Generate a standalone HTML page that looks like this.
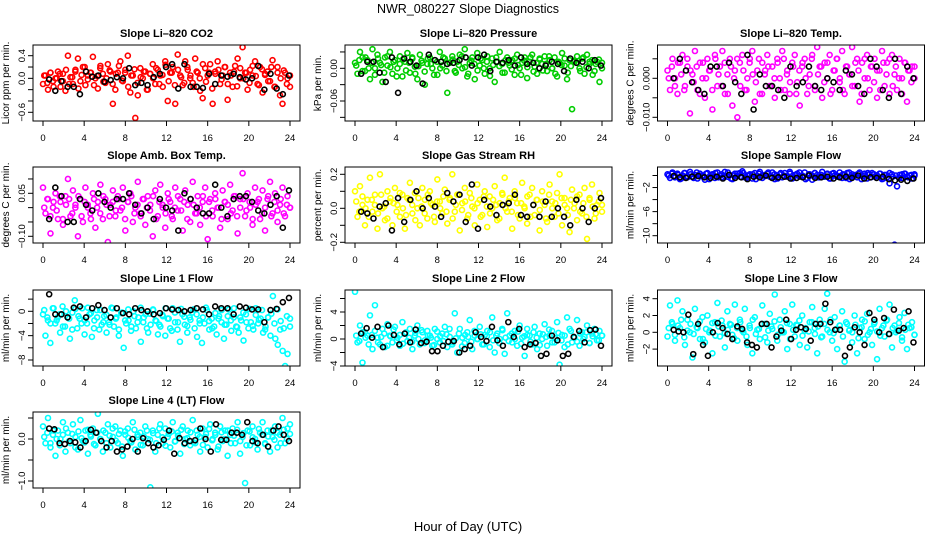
<!DOCTYPE html>
<html><head><meta charset="utf-8"><style>
html,body{margin:0;padding:0;background:#fff;}
svg{display:block;font-family:"Liberation Sans",Arial,sans-serif;}
</style></head><body>
<svg id="chart" width="936" height="540" viewBox="0 0 936 540" xmlns="http://www.w3.org/2000/svg">
<text x="468" y="13" font-size="12.5" text-anchor="middle">NWR_080227  Slope Diagnostics</text>
<text x="468" y="531" font-size="13" text-anchor="middle">Hour of Day (UTC)</text>
</svg>
<script>
const xTicks = [0,4,8,12,16,20,24];
const co2Vals = [-0.1,0.05,-0.2,0.1,-0.05,0.0,0.12,-0.15,0.08,-0.22,0.4,0.02,-0.1,0.15,0.35,-0.05,0.2,-0.12,0.05,0.1,0.38,0.0,-0.18,0.22,0.08,-0.08,0.25,0.12,-0.45,-0.2,0.1,0.3,-0.05,0.15,0.4,-0.25,0.05,-0.7,-0.3,0.18,0.0,0.12,-0.2,0.08,0.25,-0.1,0.15,0.05,-0.15,0.3,-0.4,0.1,0.2,-0.45,0.42,0.05,-0.12,0.3,0.15,0.0,-0.08,0.35,0.1,-0.22,-0.35,0.18,0.05,0.25,-0.45,0.12,0.3,-0.1,0.05,0.2,-0.38,0.1,-0.15,0.22,0.35,0.0,0.55,0.1,-0.2,0.15,0.05,0.3,-0.1,0.2,-0.25,0.08,0.12,-0.05,0.32,-0.15,0.2,-0.3,-0.45,0.1,0.0,-0.15];
const co2Vals2 = [0.05,-0.08,0.1,-0.15,0.0,0.08,-0.05,0.15,-0.1,0.02,0.12,-0.18,0.06,0.2,-0.02,0.1,-0.12,0.04,0.18,-0.06,0.0,0.14,-0.1,0.08,0.22,-0.04,0.1,-0.15,0.05,0.16,-0.08,0.02,0.12,-0.2,0.08,0.0,0.18,-0.1,0.06,0.24,-0.05,0.1,-0.12,0.15,0.02,-0.08,0.2,0.05,-0.15,0.12,0.0,0.25,-0.06,0.1,-0.18,0.08,0.15,-0.02,0.2,-0.1,0.05,0.12,-0.14,0.18,0.0,0.1,-0.08,0.22,0.04,-0.12,0.16,0.06,-0.05,0.2,-0.15,0.1,0.0,0.14,-0.1,0.05];
const co2Black = [-0.02,-0.22,-0.05,-0.15,-0.15,-0.28,0.12,0.03,0.05,-0.06,-0.03,0.02,0.0,0.18,-0.12,-0.08,-0.12,0.02,0.08,0.2,0.25,-0.18,0.25,-0.15,-0.15,-0.17,0.08,-0.1,0.05,0.03,0.08,0.02,-0.02,0.0,0.22,-0.2,0.08,-0.18,-0.28,0.05];
const presVals = [0.01,-0.01,0.03,0.02,-0.005,0.015,-0.02,0.035,0.0,0.025,0.01,-0.025,0.02,0.005,0.03,-0.01,0.015,0.0,0.022,-0.015,0.012,0.028,-0.008,0.018,0.003,-0.02,0.025,0.01,-0.03,0.008,0.02,0.0,0.015,-0.012,0.03,0.005,0.018,-0.045,0.01,0.022,-0.005,0.012,0.025,0.0,0.035,-0.015,0.01,0.02,-0.02,0.028,0.005,0.015,-0.01,0.022,0.0,0.018,-0.025,0.012,0.03,0.008,-0.008,0.02,0.005,0.015,-0.012,0.025,0.0,0.01,0.02,-0.018,0.012,0.025,0.003,-0.01,0.018,0.008,0.022,-0.005,0.015,0.0,0.02,-0.015,0.01,0.028,0.005,-0.02,0.015,-0.075,0.012,0.022,0.0,0.018,-0.01,0.025,0.008,0.015,-0.005,0.012,-0.025,0.01];
const presVals2 = [0.005,0.015,-0.005,0.02,0.0,0.01,-0.012,0.018,0.006,-0.008,0.022,0.002,0.012,-0.015,0.008,0.016,-0.004,0.01,0.02,-0.01,0.004,0.014,-0.006,0.018,0.008,-0.012,0.012,0.0,0.02,-0.005,0.01,0.016,-0.008,0.006,0.022,0.002,-0.01,0.014,0.008,-0.004,0.018,0.0,0.012,-0.014,0.006,0.02,0.004,-0.008,0.015,0.01,-0.002,0.018,0.006,-0.012,0.014,0.002,0.02,-0.006,0.01,0.016,-0.004,0.008,0.022,0.0,-0.01,0.012,0.006,0.018,-0.008,0.004,0.014,0.01,-0.005,0.02,0.002,0.012,-0.012,0.008,0.016,0.0];
const presBlack = [-0.01,0.012,0.012,-0.008,-0.025,0.02,-0.045,0.018,0.012,0.005,-0.028,0.025,0.015,0.012,0.008,0.01,0.015,0.02,0.005,0.02,0.025,-0.005,0.012,0.01,0.015,0.005,0.02,0.008,0.01,0.0,0.005,0.012,0.008,-0.005,0.018,0.01,0.012,0.0,0.015,0.005];
const tempVals = [0.002,-0.003,0.005,0.0,-0.004,0.004,0.006,-0.002,0.003,-0.009,0.001,0.007,-0.003,0.004,0.0,-0.005,0.005,0.002,-0.008,0.006,-0.002,0.003,0.007,-0.004,0.001,0.005,-0.007,0.002,-0.01,0.004,0.006,-0.003,0.0,0.005,0.007,-0.006,0.002,-0.004,0.004,0.001,0.006,-0.002,0.003,-0.005,0.005,0.0,0.007,-0.003,0.002,-0.004,0.004,0.006,-0.001,-0.007,0.003,0.005,-0.004,0.001,0.006,-0.002,0.008,0.003,-0.005,0.004,0.0,0.006,-0.003,0.002,0.005,-0.001,0.007,-0.004,0.003,0.001,0.008,-0.002,0.005,-0.006,0.004,0.0,0.006,-0.003,0.003,0.005,-0.005,0.002,0.007,-0.002,0.004,-0.004,0.006,0.001,-0.003,0.005,0.0,0.004,-0.006,0.002,0.003,0.0];
const tempVals2 = [0.0,0.003,-0.002,0.004,0.001,-0.003,0.005,0.002,-0.001,0.003,-0.004,0.004,0.0,0.002,-0.003,0.005,0.001,-0.002,0.004,-0.004,0.003,0.0,0.005,-0.002,0.002,-0.003,0.004,0.001,-0.001,0.005,-0.004,0.002,0.003,-0.002,0.0,0.004,-0.003,0.005,0.001,-0.001,0.003,-0.004,0.002,0.004,0.0,-0.002,0.005,-0.003,0.001,0.003,-0.001,0.004,-0.004,0.002,0.005,0.0,-0.003,0.003,0.001,-0.002,0.004,0.002,-0.004,0.005,0.0,0.003,-0.001,0.002,-0.003,0.004,0.001,0.005,-0.002,0.003,0.0,-0.004,0.004,0.002,-0.001,0.003];
const tempBlack = [0.0,0.005,0.002,-0.001,-0.003,-0.004,0.003,0.003,-0.002,0.004,-0.001,-0.004,0.006,-0.008,0.001,-0.002,-0.002,-0.003,-0.005,0.003,-0.002,-0.001,0.003,-0.002,-0.003,0.0,-0.001,-0.003,0.002,0.001,-0.002,-0.004,0.005,0.003,-0.003,-0.005,0.005,-0.004,0.003,0.0];
const ambVals = [0.07,-0.02,0.03,-0.09,0.0,0.05,-0.04,0.02,-0.06,0.04,0.1,-0.03,0.06,0.01,-0.1,0.03,-0.05,0.07,0.0,-0.02,0.05,-0.07,0.02,0.08,-0.04,0.03,-0.12,0.01,0.06,-0.03,0.04,-0.01,0.07,-0.08,0.02,0.05,-0.05,0.0,0.09,-0.02,0.03,-0.06,0.04,0.01,-0.1,0.06,-0.03,0.08,0.0,-0.07,0.05,0.02,-0.04,0.07,-0.01,0.03,-0.08,0.06,0.01,-0.05,0.09,-0.02,0.04,-0.06,0.02,0.07,-0.11,0.03,-0.03,0.05,0.0,-0.07,0.06,0.02,-0.04,0.08,-0.01,0.04,-0.09,0.03,0.12,-0.03,0.05,0.0,-0.06,0.07,0.02,-0.04,0.06,-0.08,0.03,0.09,-0.02,0.05,-0.05,0.01,0.07,-0.03,0.04,0.0];
const ambVals2 = [0.0,0.03,-0.03,0.02,-0.01,0.04,-0.04,0.01,0.03,-0.02,0.0,0.04,-0.03,0.02,0.01,-0.04,0.03,0.0,-0.02,0.04,0.01,-0.03,0.02,-0.01,0.03,0.0,-0.04,0.02,0.04,-0.02,0.01,-0.03,0.03,0.0,-0.01,0.04,-0.04,0.02,0.01,-0.02,0.03,-0.03,0.0,0.04,-0.01,0.02,-0.04,0.03,0.01,-0.02,0.0,0.04,-0.03,0.02,-0.01,0.03,0.0,-0.04,0.02,0.01,-0.02,0.04,-0.03,0.0,0.03,-0.01,0.02,-0.04,0.01,0.03,-0.02,0.0,0.04,-0.03,0.02,-0.01,0.03,-0.02,0.01,0.0];
const ambBlack = [-0.04,0.07,0.04,-0.05,-0.05,0.03,0.01,-0.01,0.05,0.02,0.0,0.03,0.03,0.05,0.01,-0.02,0.0,-0.04,0.03,0.0,-0.01,-0.08,0.05,0.03,0.0,-0.02,-0.02,0.08,0.0,-0.03,0.03,0.04,0.04,0.02,-0.01,-0.02,0.01,0.04,-0.07,0.06];
const rhVals = [0.1,-0.05,0.13,0.02,-0.1,0.05,0.18,-0.02,0.08,-0.12,0.2,0.0,-0.07,0.1,0.04,-0.1,0.12,0.02,-0.05,0.08,-0.12,0.06,0.15,-0.03,0.09,0.0,-0.1,0.12,0.05,-0.06,0.1,0.02,-0.08,0.17,0.04,-0.03,0.11,-0.09,0.06,0.2,-0.02,0.08,-0.13,0.03,0.12,-0.06,0.09,0.01,-0.1,0.14,0.05,-0.04,0.1,-0.11,0.07,0.0,0.13,-0.07,0.03,0.09,0.18,-0.02,0.06,-0.12,0.1,0.03,-0.06,0.15,0.0,-0.09,0.08,0.12,-0.04,0.05,-0.13,0.1,0.02,-0.08,0.14,0.04,-0.05,0.09,0.2,-0.1,0.06,0.0,-0.14,0.11,0.03,-0.07,0.08,-0.03,0.12,-0.18,0.05,0.14,-0.06,0.02,0.09,-0.02];
const rhVals2 = [0.04,-0.02,0.07,0.0,-0.05,0.05,0.02,-0.03,0.08,0.01,-0.06,0.06,0.03,-0.02,0.09,0.0,-0.04,0.05,0.02,-0.07,0.06,0.01,-0.03,0.08,0.03,-0.05,0.04,0.0,0.07,-0.02,0.05,-0.06,0.02,0.08,-0.01,0.04,-0.04,0.06,0.0,0.03,-0.05,0.07,0.01,-0.03,0.05,0.02,-0.06,0.08,0.0,0.04,-0.02,0.06,-0.04,0.03,0.01,0.07,-0.05,0.02,0.05,-0.01,0.04,-0.06,0.08,0.0,0.03,-0.03,0.06,0.02,-0.04,0.05,0.0,0.07,-0.02,0.03,-0.05,0.06,0.01,-0.03,0.04,0.02];
const rhBlack = [-0.02,-0.03,-0.06,0.01,0.03,-0.13,0.06,-0.08,0.05,0.1,0.0,0.06,0.01,-0.05,0.09,0.04,0.08,-0.08,0.14,-0.12,0.05,0.01,-0.04,0.02,0.03,0.08,-0.04,-0.05,0.02,-0.05,0.04,-0.05,0.0,-0.05,-0.1,0.05,0.0,-0.08,0.0,0.06];
const sampleVals = [0.2,-0.4,0.5,-0.1,0.3,-0.6,0.0,0.4,-0.3,0.6,-0.2,0.1,-0.5,0.3,0.0,-0.7,0.4,-0.1,0.2,-0.4,0.5,0.0,-0.3,0.6,-0.2,0.1,-0.6,0.3,-0.1,0.4,0.7,-0.3,0.0,0.2,-0.5,0.4,-0.1,0.6,-0.4,0.1,0.3,-0.2,0.5,-0.6,0.0,0.2,-0.3,0.4,-0.1,0.6,-0.5,0.1,0.3,-0.2,0.0,0.5,-0.4,0.2,-0.7,0.4,0.1,-0.3,0.6,-0.1,0.2,-0.5,0.3,0.0,-0.2,0.5,-0.4,0.1,0.4,-0.6,0.2,0.0,-0.3,0.5,-0.1,0.3,-0.5,0.2,0.4,-0.2,0.0,0.3,-0.6,0.1,-0.3,-1.3,0.2,-11.5,-1.8,0.1,-0.4,0.3,-0.2,0.0,-0.5,0.2];
const sampleVals2 = [0.0,0.3,-0.3,0.1,-0.5,0.4,-0.1,0.2,-0.4,0.5,0.0,-0.2,0.3,-0.6,0.1,0.4,-0.3,0.2,-0.1,0.5,-0.5,0.0,0.3,-0.2,0.4,-0.4,0.1,0.2,-0.6,0.3,0.0,-0.1,0.5,-0.3,0.2,-0.5,0.4,0.0,-0.2,0.3,-0.4,0.1,0.5,-0.1,-0.6,0.2,0.0,0.4,-0.3,0.1,-0.2,0.3,-0.5,0.4,0.0,-0.1,0.2,-0.4,0.5,-0.2,0.1,0.3,-0.6,0.0,0.4,-0.3,0.2,-0.1,0.3,-0.5,0.1,0.4,-0.2,0.0,-0.4,0.2,0.3,-0.3,0.1,0.0];
const sampleBlack = [-0.1,-0.3,-0.4,-0.2,-0.1,-0.3,-0.4,-0.2,-0.5,0.1,-0.4,-0.3,-0.6,-0.2,-0.3,0.0,-0.4,-0.3,-0.2,-0.5,-0.4,-0.3,0.0,-0.4,-0.3,-0.2,-0.5,-0.3,-0.2,-0.4,0.0,-0.5,-0.3,-0.4,-0.2,-0.6,-0.8,-0.7,-0.9,-0.5];
const l1Vals = [-0.5,-4,-1.5,-5.2,0.5,-2,-1,-3.5,0.8,-2.5,-1,-4.5,-0.2,1.8,-2.8,-1.2,0.5,-3.8,-2,-0.5,-4.2,-1.5,0.2,-3,-2.2,-0.8,-3.5,-1.8,0.6,-2.5,-1,-4,-0.3,-6,-2,-1.5,-3.2,0,-2.8,-1,-5,-1.8,-0.5,-3.5,-2.2,0.3,-1.5,-3.8,-2.5,-0.8,-4,-1.2,-2.8,0.5,-1.8,-3,-5,-0.5,-2.2,-3.5,-1,-0.2,-2.8,-4.2,-1.5,-5.2,-2,0.2,-3,-1.2,-2.5,-3.8,-0.8,-1.8,-4.5,-2.2,0.3,-3.2,-1,-2.5,-3.5,-1.5,-4.8,-0.5,-2.8,-1.8,-3,0.5,-2,-1.2,-3.5,-2.5,-1,-4,2.5,-4.5,-5.5,-3,-6.5,-9,-7,-2.5];
const l1Vals2 = [0.2,-1,-2,0.5,-1.5,-0.5,-2.5,0,-1.2,-3,0.4,-0.8,-2,-1.5,0.6,-0.3,-2.8,-1,0.2,-1.8,-0.6,-2.2,0.5,-1.2,-3,-0.2,-1.5,0.3,-2.5,-0.8,-1.8,0.6,-1,-2.8,-0.4,0.2,-1.6,-2.2,-0.6,0.5,-1.2,-3.2,-0.2,-1.8,0.4,-0.9,-2.4,-1.4,0.3,-0.5,-2,-1,0.6,-1.6,-2.8,-0.3,-1.2,0.2,-2.2,-0.8,-1.5,0.5,-2.6,-1,-0.2,-1.8,0.4,-2.4,-0.6,-1.4,0.2,-3,-1,-0.4,-2,0.3,-1.6,-2.8,-0.8,-1.2];
const l1Black = [2.8,-0.5,-0.5,-1,0.6,0.8,-1,0.5,1,0.2,-1,0.5,-0.3,-0.5,0.5,0.2,0,-0.5,-0.3,0.5,0.3,0.2,0,0.2,0.5,0.3,-0.5,0.8,0.5,0.5,-0.5,0.8,0.6,0.3,0.3,-1.8,0.2,0.4,1.5,2.2];
const l2Vals = [7,-0.5,2,-3.5,1,0.5,3.5,-1.5,5,0.2,-0.8,1.5,-1.2,2.2,0.5,-0.5,1.8,0.2,-1,2.5,0.8,-0.3,1.5,-1.5,0.5,2,-0.8,1,-0.2,1.2,0.5,-1,1.5,0,-0.5,0.8,1.8,-1.2,0.3,-0.8,3.8,-2,1.5,0.2,-0.6,1,2.8,-1.5,0.5,0,1.8,-0.8,0.6,1.2,-1.2,3.2,-2,0.8,0,1.5,-2.2,3.8,0.5,-0.5,1.2,-1,2,0.2,-2.5,1.5,0.5,-0.8,1.8,-1.5,0.8,0,2.2,-1,0.5,1.2,-0.5,2.5,-3.8,0.6,-1.2,3.2,1.5,-0.5,0.2,2.8,-1,1,0.3,2,-0.6,0.8,1.5,-0.2,1.2,0.5];
const l2Vals2 = [0.5,-0.3,1,0.2,-0.8,0.6,1.2,-0.5,0.3,0.8,-1,0.4,1.4,-0.2,0.6,-0.7,1,0.2,-0.4,0.9,0.0,1.3,-0.6,0.5,0.2,-0.9,1.1,0.4,-0.3,0.7,1.5,-0.5,0.1,0.8,-1.1,0.6,0.3,-0.4,1.2,0.0,0.7,-0.8,0.4,1.0,-0.2,0.5,-0.6,1.3,0.2,-0.3,0.8,0.0,1.1,-0.7,0.4,0.6,-0.4,1.0,0.2,-0.9,0.7,0.3,1.4,-0.5,0.1,0.9,-0.2,0.5,-0.8,1.2,0.3,-0.4,0.8,0.0,1.0,-0.6,0.4,0.7,-0.2,0.5];
const l2Black = [0.8,1.6,0.2,1.8,-1.2,2,0.6,-0.8,0.8,-0.5,1.4,-0.6,-0.4,-1.8,-1.8,-1,-0.4,-0.3,-2,-1.5,-1,1,0.3,-0.3,1.8,-0.2,-1,2.5,0.3,1.5,-1.2,-0.8,-0.6,-2.5,-2.2,0.5,-0.2,-2.5,-2.2,0.3,1.2,-0.5,1.3,1.4,-1];
const l3Vals = [-0.5,3.2,1,-1,3.8,0.5,2.5,-1.5,1.5,0,-3,2.8,0.5,-0.8,1.8,-1.2,2,0.2,-2.5,1.2,3.5,-0.5,0.8,-1.8,2.5,1,-0.3,3.3,-1,1.5,0.2,2.8,-1.5,0.5,-2.5,1.8,0.3,-0.8,3.2,1,-1.2,2.2,0.4,4.5,-1,1.5,0,2.5,-2,1,3.3,-0.5,0.8,-1.5,2,0.2,-1.8,1.2,3,0.5,-2.5,1.5,-0.5,2.8,4.6,0,-1,1.8,-2,0.8,2.5,-3.5,1,0.3,-1.2,2,-2.5,0.5,1.5,-0.8,2.2,0,-1.5,1.2,-3.2,2.8,0.5,-0.5,1.5,3.3,-1.8,0.8,0.2,1.8,-1,2.3,-2,0.5,1.2,-0.3];
const l3Vals2 = [0.5,1.2,-0.3,0.8,1.5,-0.6,0.2,1.0,-0.2,0.6,1.3,-0.8,0.4,0.0,1.1,-0.4,0.7,1.4,-0.1,0.3,0.9,-0.7,0.5,1.2,0.0,-0.5,0.8,1.5,-0.2,0.4,1.0,-0.6,0.2,0.7,1.3,-0.3,0.6,0.0,1.1,-0.8,0.3,0.9,1.4,-0.4,0.5,0.1,1.2,-0.2,0.7,-0.6,1.0,0.3,1.5,-0.1,0.4,0.8,-0.5,1.2,0.2,0.0,0.9,-0.7,0.6,1.3,-0.3,0.4,1.0,0.1,-0.4,0.8,1.4,-0.2,0.5,0.0,1.1,-0.6,0.3,0.9,0.6,-0.3];
const l3Black = [0.3,0.1,0,2.1,-2.6,1,-1.5,-2.8,0,1.1,0.5,-0.2,-0.8,0.7,0.4,-1.2,-1.5,-1.8,1,1,-1.8,-0.5,0.2,1.5,-0.8,0.3,0.6,0.4,-1,1,1,3.4,1.2,0.3,0.3,-2.8,-1.8,0.6,0,-1.5,2.3,1.5,0,1.7,-0.2,2.7,0.2,0.5,2.5,-1.2];
const l4Vals = [0.3,-0.1,0.5,-0.2,0.1,-0.4,0.2,0,0.4,-0.3,0.15,-0.1,0.35,0.05,-0.25,0.45,-0.05,0.2,-0.35,0.1,0.25,-0.15,0.6,0,-0.3,0.15,0.35,-0.2,0.05,0.3,-0.1,0.2,-0.4,0.1,0.25,-0.05,0.4,-0.25,0.05,0.15,-0.15,0.3,0,-1.15,0.2,-0.3,0.1,0.35,-0.1,0.25,0.05,-0.2,0.4,-0.05,0.15,-0.35,0.3,0,0.2,-0.15,0.45,-0.1,0.1,-0.3,0.25,0.05,-0.2,0.35,0,0.15,-0.25,0.3,-0.05,0.2,-0.4,0.1,0.25,-0.1,0.4,-0.35,0.05,-1.05,0.2,-0.15,0.3,0,-0.25,0.15,0.4,-0.1,0.2,-0.3,0.05,0.3,-0.2,0.1,0.5,-0.1,0.25,0.35];
const l4Vals2 = [0.05,0.15,-0.1,0.2,0.0,-0.15,0.1,0.25,-0.05,0.12,-0.2,0.18,0.02,-0.08,0.22,0.06,-0.12,0.15,0.0,0.2,-0.1,0.08,0.25,-0.04,0.12,-0.18,0.18,0.03,-0.08,0.22,0.1,-0.14,0.06,0.2,-0.02,0.14,-0.1,0.25,0.04,-0.16,0.12,0.18,-0.06,0.08,0.22,-0.12,0.02,0.16,-0.08,0.2,0.05,-0.14,0.12,0.24,-0.03,0.1,-0.18,0.16,0.0,0.2,-0.1,0.08,0.22,-0.05,0.14,-0.15,0.18,0.04,-0.08,0.24,0.1,-0.12,0.06,0.2,-0.02,0.15,-0.1,0.22,0.0,0.12];
const l4Black = [0.25,0.23,-0.1,-0.12,-0.05,-0.08,-0.2,-0.05,0.22,0.15,-0.05,-0.2,-0.05,-0.3,-0.25,-0.18,0,-0.3,0.02,-0.1,-0.2,-0.15,-0.02,0.2,-0.35,0.02,-0.1,-0.05,-0.03,0.25,0,-0.3,0.35,-0.02,-0.02,0.15,0.15,0.1,0.4,-0.05,-0.1,0.1,-0.18,0.2,0.3,0.1,-0.05];

const NS='http://www.w3.org/2000/svg';
const svg=document.getElementById('chart');
function mk(tag,attrs,parent){const e=document.createElementNS(NS,tag);for(const k in attrs)e.setAttribute(k,attrs[k]);(parent||svg).appendChild(e);return e;}
const colLeft=[33,345,657.5];
const rowTop=[45,167,290,412];
const boxW=267, boxH=76;
function drawPanel(p){
  const L=colLeft[p.col], T=rowTop[p.row];
  const g=mk('g',{});
  
  
  const x0=L+10, x24=L+257;
  const xs=v=>x0+(v/24)*(x24-x0);
  const ys=v=>p.ay+(v-p.av)*(p.by-p.ay)/(p.bv-p.av);
  const t=mk('text',{x:L+boxW/2,y:T-8,'font-size':'11','font-weight':'bold','text-anchor':'middle'},g);
  t.textContent=p.title;
  
  
  const yl=mk('text',{transform:`translate(${L-24},${T+boxH/2}) rotate(-90)`,'font-size':'10','text-anchor':'middle'},g);
  yl.textContent=p.ylab;
  
  
  const xa=mk('g',{},g);
  
  
  xTicks.forEach(v=>{
    mk('line',{x1:xs(v),x2:xs(v),y1:T+boxH,y2:T+boxH+5,stroke:'#000','stroke-width':1},xa);
    const tx=mk('text',{x:xs(v),y:T+boxH+20,'font-size':'9.5','text-anchor':'middle'},xa);
    tx.textContent=v;
  });
  const ya=mk('g',{},g);
  
  
  p.ticks.forEach(v=>{mk('line',{x1:L-5,x2:L,y1:ys(v),y2:ys(v),stroke:'#000','stroke-width':1},ya);});
  p.labels.forEach((lb,i)=>{
    const ty=mk('text',{transform:`translate(${L-8},${ys(p.labelVals[i])}) rotate(-90)`,'font-size':'9.5','text-anchor':'middle'},ya);
    ty.textContent=lb;
  });
  const clipId='c'+p.name;
  const cp=mk('clipPath',{id:clipId},g);mk('rect',{x:L,y:T,width:boxW,height:boxH},cp);
  const pts=mk('g',{'clip-path':`url(#${clipId})`},g);
  [[p.vals,0],[p.vals2,0.12]].forEach(([arr,off])=>{
    const n=arr.length;
    arr.forEach((v,i)=>{
      const c=mk('circle',{cx:xs(off+(24-off)*i/(n-1)),cy:ys(v),r:2.5,fill:'none',stroke:p.color,'stroke-width':1.6},pts);
      
      
    });
  });
  const m=p.black.length;
  p.black.forEach((v,i)=>{
    const c=mk('circle',{cx:xs(0.6+23.3*i/(m-1)),cy:ys(v),r:2.5,fill:'none',stroke:'#000','stroke-width':1.6},pts);
    
    
  });
  mk('rect',{x:L,y:T,width:boxW,height:boxH,fill:'none',stroke:'#000','stroke-width':1},g);
}
drawPanel({name:'panel-co2',col:0,row:0,title:'Slope Li\u2013820 CO2',ylab:'Licor ppm per min.',color:'#ff0000',av:0.4,ay:55.7,bv:-0.6,by:112.3,ticks:[0.4,0.2,0,-0.2,-0.4,-0.6],labels:['0.4','0.0','\u22120.6'],labelVals:[0.4,0,-0.6],vals:co2Vals,vals2:co2Vals2,black:co2Black});
drawPanel({name:'panel-pressure',col:1,row:0,title:'Slope Li\u2013820 Pressure',ylab:'kPa per min.',color:'#00cd00',av:0,ay:68.3,bv:-0.06,by:101,ticks:[0.03,0,-0.03,-0.06,-0.09],labels:['0.00','\u22120.06'],labelVals:[0,-0.06],vals:presVals,vals2:presVals2,black:presBlack});
drawPanel({name:'panel-li820-temp',col:2,row:0,title:'Slope Li\u2013820 Temp.',ylab:'degrees C per min.',color:'#ff00ff',av:0,ay:78.3,bv:-0.01,by:117.3,ticks:[0.005,0,-0.005,-0.01],labels:['0.000','\u22120.010'],labelVals:[0,-0.01],vals:tempVals,vals2:tempVals2,black:tempBlack});
drawPanel({name:'panel-amb-box-temp',col:0,row:1,title:'Slope Amb. Box Temp.',ylab:'degrees C per min.',color:'#ff00ff',av:0.05,ay:193.3,bv:-0.1,by:236.3,ticks:[0.1,0.05,0,-0.05,-0.1],labels:['0.05','\u22120.10'],labelVals:[0.05,-0.1],vals:ambVals,vals2:ambVals2,black:ambBlack});
drawPanel({name:'panel-gas-stream-rh',col:1,row:1,title:'Slope Gas Stream RH',ylab:'percent per min.',color:'#ffff00',av:0,ay:208.3,bv:0.2,by:174.3,ticks:[0.2,0.1,0,-0.1,-0.2],labels:['0.2','0.0','\u22120.2'],labelVals:[0.2,0,-0.2],vals:rhVals,vals2:rhVals2,black:rhBlack});
drawPanel({name:'panel-sample-flow',col:2,row:1,title:'Slope Sample Flow',ylab:'ml/min per min.',color:'#0000ff',av:0,ay:175.5,bv:-10,by:235.7,ticks:[0,-2,-4,-6,-8,-10],labels:['\u22122','\u22126','\u221210'],labelVals:[-2,-6,-10],vals:sampleVals,vals2:sampleVals2,black:sampleBlack});
drawPanel({name:'panel-line1-flow',col:0,row:2,title:'Slope Line 1 Flow',ylab:'ml/min per min.',color:'#00ffff',av:0,ay:311.3,bv:-8,by:360,ticks:[2,0,-2,-4,-6,-8],labels:['0','\u22124','\u22128'],labelVals:[0,-4,-8],vals:l1Vals,vals2:l1Vals2,black:l1Black});
drawPanel({name:'panel-line2-flow',col:1,row:2,title:'Slope Line 2 Flow',ylab:'ml/min per min.',color:'#00ffff',av:0,ay:339,bv:4,by:312,ticks:[6,4,2,0,-2,-4],labels:['4','0','\u22124'],labelVals:[4,0,-4],vals:l2Vals,vals2:l2Vals2,black:l2Black});
drawPanel({name:'panel-line3-flow',col:2,row:2,title:'Slope Line 3 Flow',ylab:'ml/min per min.',color:'#00ffff',av:0,ay:332.3,bv:4,by:298.7,ticks:[4,2,0,-2],labels:['4','2','0','\u22122'],labelVals:[4,2,0,-2],vals:l3Vals,vals2:l3Vals2,black:l3Black});
drawPanel({name:'panel-line4-flow',col:0,row:3,title:'Slope Line 4 (LT) Flow',ylab:'ml/min per min.',color:'#00ffff',av:0,ay:439,bv:-1,by:481,ticks:[0.5,0,-0.5,-1],labels:['0.0','\u22121.0'],labelVals:[0,-1],vals:l4Vals,vals2:l4Vals2,black:l4Black});
</script>
</body></html>
